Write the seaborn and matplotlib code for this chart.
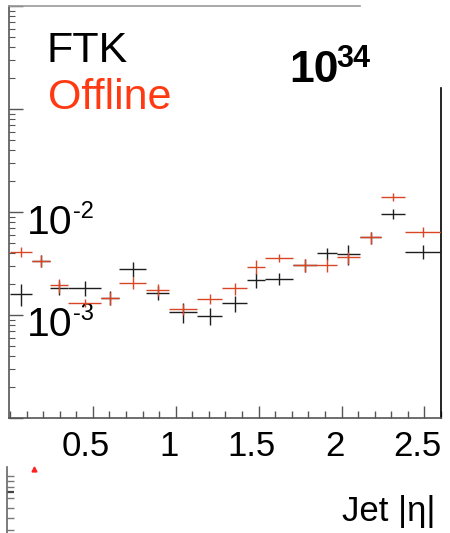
import numpy as np
import matplotlib
matplotlib.use("Agg")
import matplotlib.pyplot as plt
import matplotlib.transforms as mtrans
from matplotlib.ticker import LogLocator, NullFormatter, MultipleLocator, FixedLocator
import seaborn as sns

# ---------------- data ----------------
eta_edges = [0.00, 0.13, 0.24, 0.35, 0.55, 0.66, 0.82, 0.96, 1.13, 1.28,
             1.43, 1.54, 1.71, 1.85, 1.97, 2.11, 2.24, 2.38, 2.60]
ftk_vals = [1.60e-3, 3.36e-3, 1.84e-3, 1.84e-3, 1.47e-3, 2.80e-3, 1.65e-3, 1.08e-3, 9.8e-4,
            1.30e-3, 2.19e-3, 2.24e-3, 3.05e-3, 3.97e-3, 3.91e-3, 5.67e-3, 9.57e-3, 4.12e-3]
ftk_errs = [3.9e-4, 4.5e-4, 2.9e-4, 3.1e-4, 2.3e-4, 4.4e-4, 2.6e-4, 2.4e-4, 1.8e-4,
            2.2e-4, 3.7e-4, 3.0e-4, 4.1e-4, 5.3e-4, 8.8e-4, 7.6e-4, 1.07e-3, 6.5e-4]
off_vals = [4.12e-3, 3.36e-3, 1.95e-3, 1.31e-3, 1.46e-3, 2.06e-3, 1.75e-3, 1.14e-3, 1.43e-3,
            1.82e-3, 2.94e-3, 3.60e-3, 3.05e-3, 3.05e-3, 3.63e-3, 5.67e-3, 1.39e-2, 6.44e-3]
off_errs = [4.6e-4, 4.5e-4, 3.1e-4, 1.2e-4, 2.0e-4, 2.8e-4, 2.3e-4, 1.5e-4, 1.6e-4,
            2.4e-4, 4.6e-4, 3.2e-4, 4.1e-4, 4.1e-4, 4.9e-4, 7.6e-4, 1.25e-3, 7.2e-4]
x_ticks = [0.5, 1.0, 1.5, 2.0, 2.5]
x_tick_labels = ["0.5", "1", "1.5", "2", "2.5"]
y_ticks = [1e-4, 1e-3, 1e-2, 1e-1, 1.0]
y_tick_labels = ["", "10", "10", "", ""]
y_tick_exps = ["", "-3", "-2", "", ""]
legend_labels = ["FTK", "Offline"]
lumi_base = "10"
lumi_exp = "34"
x_title = "Jet |η|"
# fragment of a lower panel visible at the bottom-left
ratio_eta = [0.145]
ratio_val = [0.97]

# ---------------- style ----------------
sns.set_theme(style="white")
plt.rcParams["font.family"] = ["Liberation Sans", "DejaVu Sans"]
plt.rcParams["text.color"] = "black"

W, H = 450, 533
fig = plt.figure(figsize=(W / 100, H / 100), dpi=100)
fig.patch.set_facecolor("white")

def fx(px):
    return px / W

def fy(py):
    return 1 - py / H

AX_L, AX_R, AX_T, AX_B = 9, 441, 6, 418
ax = fig.add_axes([fx(AX_L), fy(AX_B), fx(AX_R - AX_L), (AX_B - AX_T) / H])
ax.set_facecolor("white")

edges = np.array(eta_edges)
centers = (edges[:-1] + edges[1:]) / 2
halfw = np.diff(edges) / 2

ax.errorbar(centers, ftk_vals, xerr=halfw, yerr=ftk_errs, fmt="none",
            ecolor="#1e1e1e", elinewidth=1.0, capsize=0, zorder=3)
ax.errorbar(centers, off_vals, xerr=halfw, yerr=off_errs, fmt="none",
            ecolor="#d84626", elinewidth=1.0, capsize=0, zorder=4)

ax.set_yscale("log")
ax.set_xlim(-0.006, 2.6)
ax.set_ylim(1e-4, 1.0)

ax.xaxis.set_major_locator(FixedLocator(x_ticks))
ax.set_xticklabels(x_tick_labels)
ax.xaxis.set_minor_locator(MultipleLocator(0.1))
ax.yaxis.set_major_locator(FixedLocator(y_ticks))
ax.set_yticklabels(y_tick_labels)
ax.yaxis.set_minor_locator(LogLocator(base=10, subs=np.arange(2, 10)))
ax.yaxis.set_minor_formatter(NullFormatter())

ax.tick_params(axis="x", which="major", direction="in", length=9, width=1.0,
               color="#555555", labelcolor="black", labelsize=25, pad=9,
               bottom=True, top=False)
ax.tick_params(axis="x", which="minor", direction="in", length=4.8, width=1.0,
               color="#555555", bottom=True, top=False)
ax.tick_params(axis="y", which="major", direction="in", length=10, width=1.0,
               color="#555555", labelcolor="black", labelsize=29.5, pad=-13,
               left=True, right=False)
ax.tick_params(axis="y", which="minor", direction="in", length=4.3, width=0.8,
               color="#555555", left=True, right=False)

# y tick labels sit inside the frame, slightly below their tick
ydown = mtrans.ScaledTranslation(0, -6.5 / 100, fig.dpi_scale_trans)
for lbl in ax.get_yticklabels():
    lbl.set_horizontalalignment("left")
    lbl.set_transform(lbl.get_transform() + ydown)

# superscript exponents of the y tick labels
exp_shift = mtrans.ScaledTranslation(0, 11.5 / 100, fig.dpi_scale_trans)
exp_trans = mtrans.blended_transform_factory(ax.transAxes, ax.transData) + exp_shift
for yv, ex in zip(y_ticks, y_tick_exps):
    if ex:
        ax.text((73 - AX_L) / (AX_R - AX_L), yv, ex, transform=exp_trans,
                fontsize=17, color="black", ha="left", va="top")

# shift x tick labels slightly left as in reference
xleft = mtrans.ScaledTranslation(-7 / 100, 0, fig.dpi_scale_trans)
for lbl in ax.get_xticklabels():
    lbl.set_transform(lbl.get_transform() + xleft)

for side in ["left", "bottom"]:
    ax.spines[side].set_color("#555555")
    ax.spines[side].set_linewidth(1.2)
ax.spines["right"].set_color("black")
ax.spines["right"].set_linewidth(1.2)
ax.spines["right"].set_bounds(1e-4, 0.16)
ax.spines["top"].set_color("#9a9a9a")
ax.spines["top"].set_linewidth(1.2)
ax.spines["top"].set_bounds(-0.006, 2.11)

# legend-like texts
fig.text(fx(47), fy(62), legend_labels[0], fontsize=31, color="black",
         ha="left", va="baseline")
fig.text(fx(48), fy(109), legend_labels[1], fontsize=31, color="#ff3a12",
         ha="left", va="baseline")
fig.text(fx(289), fy(82), lumi_base, fontsize=32, fontweight="bold",
         color="black", ha="left", va="baseline")
fig.text(fx(336), fy(67), lumi_exp, fontsize=22, fontweight="bold",
         color="black", ha="left", va="baseline")

# x-axis title
fig.text(fx(435), fy(521), x_title, fontsize=25, color="black",
         ha="right", va="baseline")

# lower panel fragment
ax2 = fig.add_axes([fx(7), 0, fx(AX_R - 7), 66 / H])
ax2.set_facecolor("none")
ax2.set_xlim(-0.018, 2.6)
ax2.set_ylim(0, 1)
for side in ["top", "right", "bottom"]:
    ax2.spines[side].set_visible(False)
ax2.spines["left"].set_color("#666666")
ax2.spines["left"].set_linewidth(1.2)
ax2.set_xticks([])
ax2.yaxis.set_major_locator(FixedLocator([0.621]))
ax2.yaxis.set_minor_locator(FixedLocator([0.864, 0.788, 0.697, 0.530, 0.379, 0.227, 0.045]))
ax2.set_yticklabels([])
ax2.tick_params(axis="y", which="both", direction="in", length=5, width=1.0,
                color="#777777", left=True)
ax2.tick_params(axis="y", which="major", width=1.6, color="#444444")
ax2.plot(ratio_eta, ratio_val, linestyle="none", marker="^", ms=3.5,
         color="#ff2020", clip_on=False)

fig.savefig("out.png", dpi=100)
